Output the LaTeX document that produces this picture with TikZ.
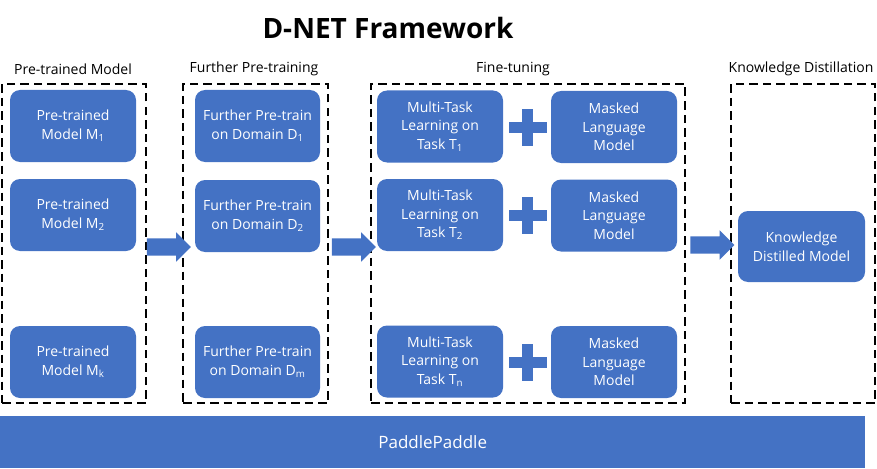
\documentclass[tikz,border=0pt]{standalone}
\usepackage{fontspec}
\setmainfont{Open Sans}
\usetikzlibrary{shapes.arrows,calc}
\definecolor{pblue}{HTML}{4472C4}
\begin{document}
\begin{tikzpicture}[x=1pt,y=-1pt,
  blk/.style={fill=pblue, draw=none, rounded corners=10pt, text=white, align=center,
    font=\fontsize{14}{18.5}\selectfont, minimum width=126pt, minimum height=72pt, inner sep=0pt},
  dbox/.style={draw=black, line width=1.6pt, dash pattern=on 8.5pt off 5pt, inner sep=0pt, minimum height=319pt},
  hdr/.style={font=\fontsize{14}{16}\selectfont, inner sep=0pt},
  barrow/.style={single arrow, fill=pblue, draw=none, minimum height=44pt, minimum width=29pt,
    single arrow head extend=6pt, inner xsep=0pt, inner ysep=8.5pt},
  plusbar/.style={fill=pblue, draw=none, inner sep=0pt}
]
\useasboundingbox (0,0) rectangle (877,468);
% title
\node[font=\fontsize{28}{32}\selectfont\bfseries] (title) at (388,28) {D-NET Framework};
% headers
\node[hdr] (h1) at (73,69) {Pre-trained Model};
\node[hdr] (h2) at (254,69) {Further Pre-training};
\node[hdr] (h3) at (513,69) {Fine-tuning};
\node[hdr] (h4) at (801,69) {Knowledge Distillation};
% dashed boxes
\node[dbox, minimum width=144pt] (b1) at (74,243.5) {};
\node[dbox, minimum width=145pt] (b2) at (255.5,243.5) {};
\node[dbox, minimum width=314pt] (b3) at (528,243.5) {};
\node[dbox, minimum width=144pt] (b4) at (803,243.5) {};
% column 1
\node[blk] (m1) at (73,126) {Pre-trained\\Model M\textsubscript{1}};
\node[blk] (m2) at (73,215) {Pre-trained\\Model M\textsubscript{2}};
\node[blk] (mk) at (73,362) {Pre-trained\\Model M\textsubscript{k}};
% column 2
\node[blk, minimum width=125pt] (d1) at (257.5,126) {Further Pre-train\\on Domain D\textsubscript{1}};
\node[blk, minimum width=125pt] (d2) at (257.5,216) {Further Pre-train\\on Domain D\textsubscript{2}};
\node[blk, minimum width=125pt] (dm) at (257.5,362) {Further Pre-train\\on Domain D\textsubscript{m}};
% column 3
\node[blk] (t1) at (440,126.5) {Multi-Task\\Learning on\\Task T\textsubscript{1}};
\node[blk] (t2) at (440,215) {Multi-Task\\Learning on\\Task T\textsubscript{2}};
\node[blk] (tn) at (440,361.5) {Multi-Task\\Learning on\\Task T\textsubscript{n}};
\node[blk] (l1) at (614,127) {Masked\\Language\\Model};
\node[blk] (l2) at (614,215.5) {Masked\\Language\\Model};
\node[blk] (ln) at (614,362) {Masked\\Language\\Model};
% plus signs
\foreach \n/\y in {p1/127.5, p2/215.5, pn/362} {
  \node[plusbar, minimum width=38pt, minimum height=11pt] (\n h) at (527.5,\y) {};
  \node[plusbar, minimum width=11pt, minimum height=37pt] (\n v) at (527.5,\y) {};
}
% knowledge distilled
\node[blk, minimum width=127pt, minimum height=71pt] (kd) at (801.5,246.5) {Knowledge\\Distilled Model};
% block arrows
\node[barrow] (a1) at ($(b1.east)!0.5!(b2.west)+(0,3.5)$) {};
\node[barrow] (a2) at ($(b2.east)!0.5!(b3.west)+(0,3.5)$) {};
\node[barrow] (a3) at ($(b3.east)!0.5!(b4.west)+(0,1.5)$) {};
% bottom bar
\node[fill=pblue, draw=none, minimum width=865pt, minimum height=52pt, anchor=north west,
  inner sep=0pt, text=white, font=\fontsize{17}{19}\selectfont] (pp) at (0,416) {PaddlePaddle};
\end{tikzpicture}
\end{document}
